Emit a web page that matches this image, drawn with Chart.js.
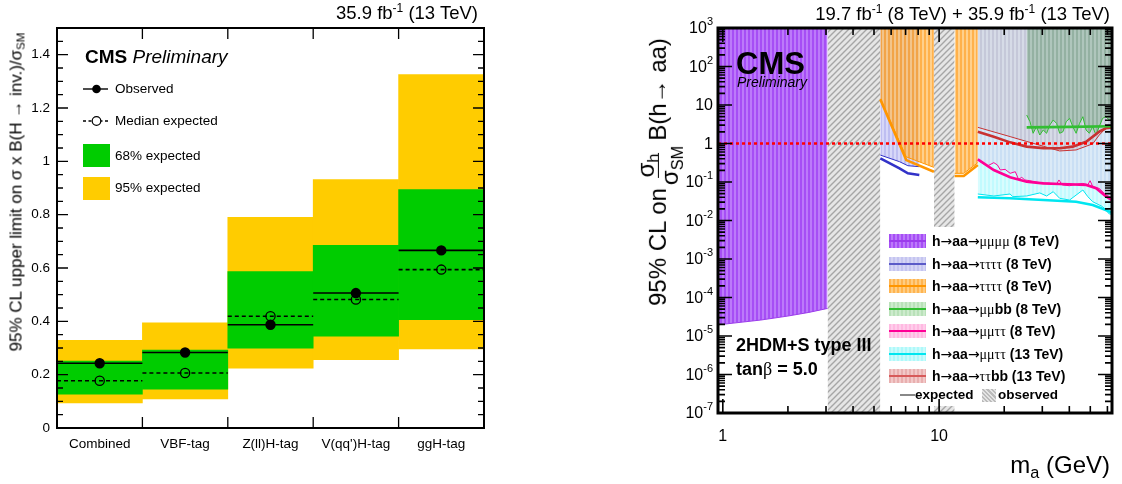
<!DOCTYPE html>
<html>
<head>
<meta charset="utf-8">
<script src="https://cdn.jsdelivr.net/npm/chart.js@4.4.0/dist/chart.umd.min.js"></script>
<style>
  body { margin: 0; background: #fff; font-family: "Liberation Sans", Arial, sans-serif; }
  #page { position: relative; width: 1122px; height: 484px; overflow: hidden; }
  canvas { position: absolute; top: 0; }
  #cLeft { left: 0; }
  #cRight { left: 620px; }
  .t { position: absolute; white-space: nowrap; color: #000; line-height: 1; pointer-events: none; transform: translateY(-50%); }
  .rot { position: absolute; white-space: nowrap; color: #000; line-height: 1; pointer-events: none;
         transform: translate(-50%, -50%) rotate(-90deg); }
  sup { font-size: 65%; vertical-align: 0.55em; line-height: 0; }
  sub { font-size: 68%; vertical-align: -0.3em; line-height: 0; }
  .g { font-family: "Liberation Serif", "DejaVu Serif", serif; font-weight: normal; }
  .ar { font-family: "DejaVu Sans", sans-serif; font-weight: normal; }
  .ytr { display: flex; align-items: baseline; }
  .frac { display: inline-flex; flex-direction: column; align-items: center; position: relative; top: -12px;
          margin: 0 5px 0 3px; line-height: 0.9; }
  .frac span:first-child { border-bottom: 1.5px solid #000; padding: 0 1px 1px; }
  .sw { position: absolute; left: 889px; width: 37px; height: 14px; }
  .sw i { position: absolute; left: 0; right: 0; top: 6px; height: 2px; }
</style>
</head>
<body>
<div id="page">
  <canvas id="cLeft" width="500" height="484"></canvas>
  <canvas id="cRight" width="502" height="484"></canvas>

  <!-- left panel texts -->
  <div class="t" style="right:644px; top:13px; font-size:18.5px;">35.9 fb<sup>-1</sup> (13 TeV)</div>
  <div class="t" style="left:85px; top:56px; font-size:19px;"><b>CMS</b> <i>Preliminary</i></div>
  <div class="rot" style="left:16px; top:192px; font-size:17px;">95% CL upper limit on σ x B(H → inv.)/σ<sub>SM</sub></div>
  <svg style="position:absolute; left:80px; top:78px;" width="32" height="125">
    <line x1="3" y1="11" x2="28" y2="11" stroke="#000" stroke-width="1.4"/>
    <circle cx="16.5" cy="11" r="4.3" fill="#000"/>
    <line x1="3" y1="43" x2="28" y2="43" stroke="#000" stroke-width="1.4" stroke-dasharray="3,2.5"/>
    <circle cx="16.5" cy="43" r="4.3" fill="#fff" stroke="#000" stroke-width="1.2"/>
    <rect x="3" y="66" width="27" height="23" fill="#00cc00"/>
    <rect x="3" y="99" width="27" height="23" fill="#ffcc00"/>
  </svg>
  <div class="t" style="left:115px; top:89px; font-size:13.5px;">Observed</div>
  <div class="t" style="left:115px; top:121px; font-size:13.5px;">Median expected</div>
  <div class="t" style="left:115px; top:156px; font-size:13.5px;">68% expected</div>
  <div class="t" style="left:115px; top:188px; font-size:13.5px;">95% expected</div>

  <!-- right panel texts -->
  <div class="t" style="right:12px; top:14px; font-size:18.5px;">19.7 fb<sup>-1</sup> (8 TeV) + 35.9 fb<sup>-1</sup> (13 TeV)</div>
  <div class="t" style="left:736px; top:63px; font-size:31px; font-weight:bold;">CMS</div>
  <div class="t" style="left:737px; top:82px; font-size:14px; font-style:italic;">Preliminary</div>
  <div class="t" style="left:736px; top:345px; font-size:18px; font-weight:bold;">2HDM+S type III</div>
  <div class="t" style="left:736px; top:369px; font-size:18px; font-weight:bold;">tan<span class="g">β</span> = 5.0</div>
  <div class="t" style="right:12px; top:465px; font-size:24px;">m<sub>a</sub> (GeV)</div>
  <div class="rot ytr" style="left:669px; top:172px; font-size:24px;">
    <span>95% CL on</span>
    <span class="frac"><span>σ<sub>h</sub></span><span>σ<sub>SM</sub></span></span>
    <span>B(h→ aa)</span>
  </div>
  <div id="legendRight"></div>
</div>

<script>
const FONT = '"Liberation Sans", Arial, sans-serif';

// ---------- left panel: H -> invisible limits per category ----------
const categories = ["Combined", "VBF-tag", "Z(ll)H-tag", "V(qq')H-tag", "ggH-tag"];
const observedLimit = [0.243, 0.283, 0.387, 0.506, 0.666];
const expectedLimit = [0.177, 0.206, 0.419, 0.482, 0.594];
const band68Low = [0.127, 0.146, 0.299, 0.344, 0.406];
const band68High = [0.251, 0.292, 0.587, 0.685, 0.894];
const band95Low = [0.094, 0.109, 0.224, 0.256, 0.297];
const band95High = [0.329, 0.394, 0.790, 0.932, 1.325];
const leftYTicks = [0, 0.2, 0.4, 0.6, 0.8, 1, 1.2, 1.4];

// ---------- right panel: h -> aa limits vs m_a ----------
const massRange = [0.95, 63];
const limitRange = [1e-7, 1e3];
const yTickPowers = [-7, -6, -5, -4, -3, -2, -1, 0, 1, 2, 3];
const xTickLabels = [1, 10];
const vetoBands = [[3.05, 5.35], [9.46, 11.8]];

// h->aa->mumumumu (8 TeV)
const mmmm8Mass = [0.95, 1.5, 2, 2.5, 3.05];
const mmmm8Obs = [1.95e-5, 2.6e-5, 3.3e-5, 4.1e-5, 5.2e-5];
// h->aa->tautautautau (8 TeV), blue
const ttttAMass = [5.35, 6.56, 7.17, 8.1];
const ttttAObs = [0.50, 0.337, 0.265, 0.25];
const ttttAExp = [0.41, 0.227, 0.168, 0.152];
// h->aa->tautautautau (8 TeV), orange
const ttttBMassLow = [5.35, 7.05, 9.46];
const ttttBObsLow = [14.5, 0.45, 0.24];
const ttttBExpLow = [14.0, 0.37, 0.185];
const ttttBMassHigh = [11.8, 13.0, 15.1];
const ttttBObsHigh = [0.168, 0.168, 0.317];
const ttttBExpHigh = [0.143, 0.143, 0.277];
// h->aa->mumubb (8 TeV)
const mmbbMass = [25.4, 26.3, 27.2, 28.2, 29.2, 30.3, 31.4, 32.5, 33.7, 34.9, 36.1, 37.4, 38.7, 40.1,
                  41.5, 43.0, 44.6, 46.2, 47.8, 49.5, 51.3, 53.1, 55.0, 57.0, 59.0, 61.2, 63];
const mmbbObs = [5.5, 3.69, 1.84, 2.74, 1.66, 2.24, 1.84, 3.02, 4.08, 3.34, 1.84, 2.03, 3.69, 4.5,
                 2.74, 1.84, 3.34, 4.97, 2.24, 1.84, 2.74, 1.66, 2.74, 4.5, 4.97, 4.08, 4.08];
const mmbbExpMass = [25.4, 40.1, 63];
const mmbbExp = [2.63, 2.7, 2.8];
// h->aa->mumutautau (8 TeV)
const mmtt8Mass = [15.1, 16.7, 17.9, 18.6, 19.2, 20.2, 21.3, 22.5, 23.3, 24.1, 24.9, 26.3, 29.2,
                   32.5, 34.9, 35.8, 37.1, 40.1, 43.0, 46.2, 48.7, 49.9, 51.3, 55.0, 59.0, 61.2, 63];
const mmtt8Obs = [0.373, 0.26, 0.318, 0.277, 0.205, 0.213, 0.168, 0.185, 0.117, 0.132, 0.113, 0.108, 0.096,
                  0.092, 0.087, 0.113, 0.084, 0.080, 0.087, 0.092, 0.084, 0.108, 0.076, 0.068, 0.046, 0.042, 0.038];
const mmtt8ExpMass = [15.1, 17.9, 21.3, 25.4, 30.3, 36.1, 47.9, 53.2, 59.1, 63];
const mmtt8Exp = [0.388, 0.205, 0.133, 0.102, 0.092, 0.089, 0.084, 0.069, 0.042, 0.034];
// h->aa->mumutautau (13 TeV)
const mmtt13Mass = [15.1, 17.9, 21.3, 21.9, 25.4, 29.2, 31.4, 33.7, 36.1, 40.1, 46.2, 48.7, 51.3, 57.0, 61.2, 63];
const mmtt13Obs = [0.0488, 0.0433, 0.0488, 0.0416, 0.0433, 0.052, 0.0433, 0.056, 0.0377, 0.034,
                   0.062, 0.0416, 0.0308, 0.0229, 0.0148, 0.0145];
const mmtt13ExpMass = [15.1, 21.3, 30.3, 43.0, 51.3, 59.0, 63];
const mmtt13Exp = [0.040, 0.0377, 0.034, 0.0308, 0.0253, 0.0187, 0.016];
// h->aa->tautaubb (13 TeV)
const ttbbMass = [15.1, 21.3, 25.4, 30.3, 36.1, 43.0, 51.3, 55.0, 59.0, 63];
const ttbbObs = [2.63, 1.51, 1.13, 0.85, 0.64, 0.68, 0.98, 1.66, 2.48, 2.7];
const ttbbExpMass = [15.1, 17.9, 21.3, 25.4, 30.3, 36.1, 41.5, 47.8, 55.0, 59.0, 63];
const ttbbExp = [2.03, 1.5, 1.07, 0.83, 0.76, 0.75, 0.83, 1.11, 2.03, 2.48, 2.6];
// SM reference
const smRefMass = [0.95, 63];
const smRefValue = [1, 1];

// ---------- helpers ----------
const pts = (ms, vs) => ms.map((m, i) => ({ x: m, y: vs[i] }));

function binSegments(vals) {
  const out = [];
  vals.forEach((v, i) => {
    out.push({ x: i - 0.5, y: v }, { x: i, y: v }, { x: i + 0.5, y: v }, { x: i + 0.5, y: null });
  });
  return out;
}

function stripes(c1, c2) {
  const cv = document.createElement("canvas");
  cv.width = 4; cv.height = 4;
  const g = cv.getContext("2d");
  g.fillStyle = c1; g.fillRect(0, 0, 2, 4);
  g.fillStyle = c2; g.fillRect(2, 0, 2, 4);
  return g.createPattern(cv, "repeat");
}

function hatch() {
  const cv = document.createElement("canvas");
  cv.width = 6; cv.height = 6;
  const g = cv.getContext("2d");
  g.fillStyle = "#e6e6e6"; g.fillRect(0, 0, 6, 6);
  g.strokeStyle = "#a6a6a6"; g.lineWidth = 1.4;
  g.beginPath();
  g.moveTo(0, 6); g.lineTo(6, 0);
  g.moveTo(-3, 3); g.lineTo(3, -3);
  g.moveTo(3, 9); g.lineTo(9, 3);
  g.stroke();
  return g.createPattern(cv, "repeat");
}

// ---------- left chart ----------
const leftFrame = {
  id: "leftFrame",
  afterDraw(chart) {
    const { ctx: g, chartArea: a, scales } = chart;
    const y = scales.y, xl = scales.xLin;
    g.save();
    g.strokeStyle = "#000";
    g.lineWidth = 1.3;
    g.beginPath();
    for (let i = 0; i <= 30; i++) {
      const py = y.getPixelForValue(i * 0.05);
      const len = i % 4 === 0 ? 11 : 6;
      g.moveTo(a.left, py); g.lineTo(a.left + len, py);
      g.moveTo(a.right, py); g.lineTo(a.right - len, py);
    }
    for (let i = 1; i < categories.length; i++) {
      const px = xl.getPixelForValue(i - 0.5);
      g.moveTo(px, a.bottom); g.lineTo(px, a.bottom - 11);
      g.moveTo(px, a.top); g.lineTo(px, a.top + 11);
    }
    g.stroke();
    g.lineWidth = 2;
    g.strokeRect(a.left, a.top, a.width, a.height);
    g.restore();
  }
};

new Chart(document.getElementById("cLeft"), {
  type: "bar",
  data: {
    labels: categories,
    datasets: [
      {
        label: "95% expected",
        data: band95Low.map((lo, i) => [lo, band95High[i]]),
        backgroundColor: "#ffcc00",
        grouped: false, barPercentage: 1, categoryPercentage: 1, order: 4
      },
      {
        label: "68% expected",
        data: band68Low.map((lo, i) => [lo, band68High[i]]),
        backgroundColor: "#00cc00",
        grouped: false, barPercentage: 1, categoryPercentage: 1, order: 3
      },
      {
        type: "line", label: "Median expected", xAxisID: "xLin",
        data: binSegments(expectedLimit),
        borderColor: "#000", borderWidth: 1.6, borderDash: [4, 3],
        pointRadius: ctx => (ctx.raw && Number.isInteger(ctx.raw.x) ? 4.6 : 0),
        pointBackgroundColor: "rgba(0,0,0,0)", pointBorderColor: "#000", pointBorderWidth: 1.3,
        spanGaps: false, order: 2
      },
      {
        type: "line", label: "Observed", xAxisID: "xLin",
        data: binSegments(observedLimit),
        borderColor: "#000", borderWidth: 1.6,
        pointRadius: ctx => (ctx.raw && Number.isInteger(ctx.raw.x) ? 4.4 : 0),
        pointBackgroundColor: "#000", pointBorderColor: "#000",
        spanGaps: false, order: 1
      }
    ]
  },
  options: {
    responsive: false,
    animation: false,
    layout: { padding: { top: 28, right: 16, left: 0, bottom: 0 } },
    plugins: { legend: { display: false }, tooltip: { enabled: false } },
    scales: {
      x: {
        type: "category",
        grid: { display: false, drawTicks: false },
        border: { display: false },
        ticks: { color: "#000", font: { family: FONT, size: 13.5 }, padding: 8, maxRotation: 0 },
        afterFit: s => { s.height = 56; }
      },
      xLin: { type: "linear", display: false, offset: false, min: -0.5, max: 4.5 },
      y: {
        min: 0, max: 1.5,
        grid: { display: false, drawTicks: false },
        border: { display: false },
        afterBuildTicks: s => { s.ticks = leftYTicks.map(v => ({ value: v })); },
        ticks: {
          color: "#000", font: { family: FONT, size: 13.5 }, padding: 7,
          callback: v => String(+Number(v).toFixed(1))
        },
        afterFit: s => { s.width = 57; }
      }
    }
  },
  plugins: [leftFrame]
});

// ---------- right chart ----------
const fillPurple = stripes("rgb(166,78,245)", "rgb(188,122,250)");
const fillBlue = stripes("rgba(110,110,225,0.45)", "rgba(140,140,235,0.35)");
const fillOrange = stripes("rgba(255,158,30,0.8)", "rgba(255,190,95,0.72)");
const fillCyan = stripes("rgba(0,235,250,0.24)", "rgba(0,235,250,0.15)");
const fillMagenta = stripes("rgba(240,80,190,0.16)", "rgba(240,80,190,0.10)");
const fillRed = stripes("rgba(170,70,70,0.15)", "rgba(170,70,70,0.09)");
const fillGreen = stripes("rgba(50,130,50,0.33)", "rgba(50,130,50,0.24)");
const fillGrey = hatch();

const C = {
  purple: "rgb(155,60,235)", blue: "rgb(50,50,200)", orange: "rgb(255,150,0)",
  green: "rgb(50,190,50)", magenta: "rgb(255,0,150)", cyan: "rgb(0,230,240)", red: "rgb(200,50,50)"
};

function obsSet(label, data, bg, color, order) {
  return { label, data, fill: "end", backgroundColor: bg, borderColor: color, borderWidth: 1, order };
}
function expSet(label, data, color, order) {
  return { label, data, fill: false, borderColor: color, borderWidth: 2.6, order };
}

const rightFrame = {
  id: "rightFrame",
  afterDatasetsDraw(chart) {
    // white legend pad
    const g = chart.ctx, a = chart.chartArea;
    g.save();
    g.fillStyle = "#fff";
    g.fillRect(263, 227, a.right - 263, 179);
    g.restore();
  },
  afterDraw(chart) {
    const { ctx: g, chartArea: a, scales: { x, y } } = chart;
    g.save();
    g.strokeStyle = "#000";
    g.lineWidth = 1.6;
    g.beginPath();
    for (let d = -7; d <= 3; d++) {
      for (let k = 1; k <= 9; k++) {
        const v = k * Math.pow(10, d);
        if (v > limitRange[1] * 1.0001) break;
        const py = y.getPixelForValue(v);
        const len = k === 1 ? 14 : 7;
        g.moveTo(a.left, py); g.lineTo(a.left + len, py);
        g.moveTo(a.right, py); g.lineTo(a.right - len, py);
      }
    }
    for (let d = 0; d <= 1; d++) {
      for (let k = 1; k <= 9; k++) {
        const v = k * Math.pow(10, d);
        if (v > massRange[1]) break;
        const px = x.getPixelForValue(v);
        const len = k === 1 ? 14 : 7;
        g.moveTo(px, a.bottom); g.lineTo(px, a.bottom - len);
        g.moveTo(px, a.top); g.lineTo(px, a.top + len);
      }
    }
    g.stroke();
    g.lineWidth = 3;
    g.strokeRect(a.left, a.top, a.width, a.height);

    // tick labels
    g.fillStyle = "#000";
    g.textBaseline = "middle";
    g.textAlign = "left";
    yTickPowers.forEach(p => {
      const py = y.getPixelForValue(Math.pow(10, p));
      const base = p === 0 ? "1" : "10";
      const sup = (p === 0 || p === 1) ? "" : String(p);
      g.font = "16px " + FONT;
      const wb = g.measureText(base).width;
      g.font = "11px " + FONT;
      const ws = sup ? g.measureText(sup).width : 0;
      const xr = a.left - 5;
      g.font = "16px " + FONT;
      g.fillText(base, xr - wb - ws, py + 1);
      if (sup) { g.font = "11px " + FONT; g.fillText(sup, xr - ws, py - 6); }
    });
    g.textAlign = "center";
    g.font = "16px " + FONT;
    xTickLabels.forEach(m => {
      g.fillText(String(m), x.getPixelForValue(m), a.bottom + 24);
    });
    g.restore();
  }
};

// grey hatched mass windows, filled from the floor of the plot up to the top
const vetoSets = vetoBands.map(([lo, hi], i) => ({
  label: "veto " + i,
  data: [{ x: lo, y: limitRange[0] }, { x: hi, y: limitRange[0] }],
  fill: "end", backgroundColor: fillGrey, borderWidth: 0, order: 100
}));

new Chart(document.getElementById("cRight"), {
  type: "line",
  data: {
    datasets: [
      ...vetoSets,
      obsSet("mumumumu 8 TeV", pts(mmmm8Mass, mmmm8Obs), fillPurple, C.purple, 90),
      obsSet("mumutautau 13 TeV", pts(mmtt13Mass, mmtt13Obs), fillCyan, C.cyan, 80),
      obsSet("mumutautau 8 TeV", pts(mmtt8Mass, mmtt8Obs), fillMagenta, C.magenta, 78),
      obsSet("tautaubb 13 TeV", pts(ttbbMass, ttbbObs), fillRed, C.red, 76),
      obsSet("mumubb 8 TeV", pts(mmbbMass, mmbbObs), fillGreen, C.green, 74),
      obsSet("4tau 8 TeV (a)", pts(ttttAMass, ttttAObs), fillBlue, C.blue, 72),
      obsSet("4tau 8 TeV (b) low", pts(ttttBMassLow, ttttBObsLow), fillOrange, C.orange, 70),
      obsSet("4tau 8 TeV (b) high", pts(ttttBMassHigh, ttttBObsHigh), fillOrange, C.orange, 69),
      expSet("mumutautau 13 TeV exp", pts(mmtt13ExpMass, mmtt13Exp), C.cyan, 50),
      expSet("mumutautau 8 TeV exp", pts(mmtt8ExpMass, mmtt8Exp), C.magenta, 49),
      expSet("tautaubb 13 TeV exp", pts(ttbbExpMass, ttbbExp), C.red, 48),
      expSet("mumubb 8 TeV exp", pts(mmbbExpMass, mmbbExp), C.green, 47),
      expSet("4tau 8 TeV (a) exp", pts(ttttAMass, ttttAExp), C.blue, 46),
      expSet("4tau 8 TeV (b) exp low", pts(ttttBMassLow, ttttBExpLow), C.orange, 45),
      expSet("4tau 8 TeV (b) exp high", pts(ttttBMassHigh, ttttBExpHigh), C.orange, 44),
      {
        label: "SM", data: pts(smRefMass, smRefValue), fill: false,
        borderColor: "#ff0000", borderWidth: 2.6, borderDash: [3, 3], order: 1
      }
    ]
  },
  options: {
    responsive: false,
    animation: false,
    layout: { padding: { left: 98, right: 10, top: 28, bottom: 71 } },
    plugins: { legend: { display: false }, tooltip: { enabled: false } },
    elements: { point: { radius: 0 }, line: { tension: 0 } },
    scales: {
      x: { type: "logarithmic", min: massRange[0], max: massRange[1], display: false },
      y: { type: "logarithmic", min: limitRange[0], max: limitRange[1], display: false }
    }
  },
  plugins: [rightFrame]
});

// ---------- right legend ----------
const AR = '<span class="ar">→</span>';
const legendRows = [
  { text: `h${AR}aa${AR}<span class="g">μμμμ</span> (8 TeV)`, band: ["rgb(166,78,245)", "rgb(188,122,250)"], line: C.purple },
  { text: `h${AR}aa${AR}<span class="g">ττττ</span> (8 TeV)`, band: ["rgb(196,196,240)", "rgb(212,212,245)"], line: "rgb(90,90,200)" },
  { text: `h${AR}aa${AR}<span class="g">ττττ</span> (8 TeV)`, band: ["rgb(255,180,80)", "rgb(255,205,130)"], line: C.orange },
  { text: `h${AR}aa${AR}<span class="g">μμ</span>bb (8 TeV)`, band: ["rgb(185,225,185)", "rgb(205,235,205)"], line: C.green },
  { text: `h${AR}aa${AR}<span class="g">μμττ</span> (8 TeV)`, band: ["rgb(255,185,225)", "rgb(255,205,235)"], line: C.magenta },
  { text: `h${AR}aa${AR}<span class="g">μμττ</span> (13 TeV)`, band: ["rgb(175,248,250)", "rgb(200,252,252)"], line: C.cyan },
  { text: `h${AR}aa${AR}<span class="g">ττ</span>bb (13 TeV)`, band: ["rgb(232,175,175)", "rgb(242,200,200)"], line: "rgb(215,90,90)" }
];
const legendRowY = [241, 263.5, 286, 308.5, 331, 353.5, 376];

const legendEl = document.getElementById("legendRight");
legendEl.innerHTML = legendRows.map((r, i) => `
  <div class="sw" style="top:${legendRowY[i] - 7}px; background:repeating-linear-gradient(90deg, ${r.band[0]} 0 2px, ${r.band[1]} 2px 4px);">
    <i style="background:${r.line}"></i>
  </div>
  <div class="t" style="left:932px; top:${legendRowY[i]}px; font-size:14px; font-weight:bold;">${r.text}</div>
`).join("") + `
  <div style="position:absolute; left:900px; top:394px; width:15px; height:2px; background:#888;"></div>
  <div class="t" style="left:915px; top:395px; font-size:13.5px; font-weight:bold;">expected</div>
  <div style="position:absolute; left:982px; top:389px; width:14px; height:13px;
       background:repeating-linear-gradient(45deg, #bbb 0 1.5px, #e4e4e4 1.5px 3px);"></div>
  <div class="t" style="left:998px; top:395px; font-size:13.5px; font-weight:bold;">observed</div>
`;
</script>
</body>
</html>
